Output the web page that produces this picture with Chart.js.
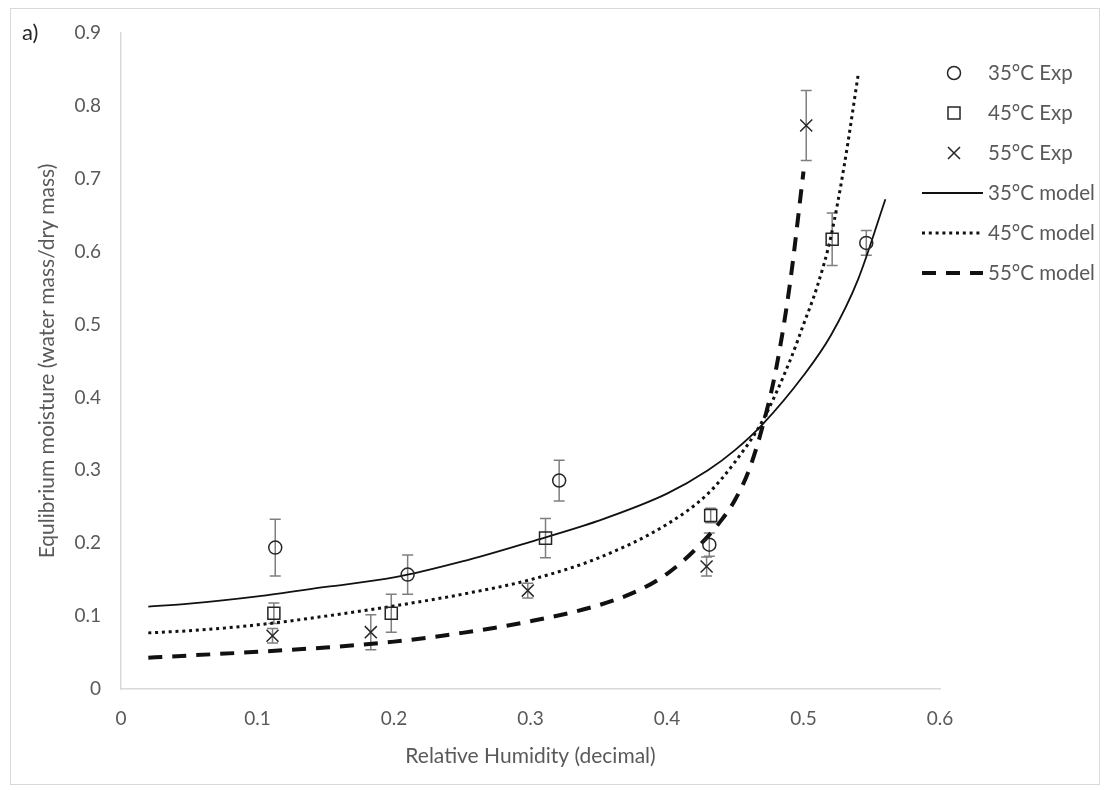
<!DOCTYPE html>
<html><head><meta charset="utf-8">
<script src="https://cdn.jsdelivr.net/npm/chart.js@4.4.1/dist/chart.umd.min.js"></script>
<style>
html,body{margin:0;padding:0;background:#fff;}
#wrap{position:relative;width:1110px;height:790px;overflow:hidden;}
#frame{position:absolute;left:10px;top:8px;width:1090px;height:777px;border:1px solid #d9d9d9;box-sizing:border-box;}
#tag{position:absolute;left:22px;top:19px;font:22px Lato,sans-serif;color:#262626;line-height:26px;}
canvas{position:absolute;left:0;top:0;}
</style></head>
<body>
<div id="wrap"><div id="frame"></div><canvas id="c" width="1110" height="790"></canvas><div id="tag">a)</div></div>
<script>
// ---- data ----
const xTickLabels = ['0','0.1','0.2','0.3','0.4','0.5','0.6'];
const yTickLabels = ['0','0.1','0.2','0.3','0.4','0.5','0.6','0.7','0.8','0.9'];
const xTitle = 'Relative Humidity (decimal)';
const yTitle = 'Equlibrium moisture (water mass/dry mass)';
const seriesLabels = ['35°C Exp','45°C Exp','55°C Exp','35°C model','45°C model','55°C model'];

const rh35 = [0.113, 0.210, 0.321, 0.431, 0.546];
const emc35 = [0.194, 0.157, 0.286, 0.198, 0.612];
const err35 = [0.039, 0.027, 0.028, 0.016, 0.017];

const rh45 = [0.112, 0.198, 0.311, 0.432, 0.521];
const emc45 = [0.104, 0.104, 0.207, 0.238, 0.617];
const err45 = [0.014, 0.026, 0.027, 0.010, 0.036];

const rh55 = [0.111, 0.183, 0.298, 0.429, 0.502];
const emc55 = [0.073, 0.078, 0.135, 0.168, 0.773];
const err55 = [0.010, 0.024, 0.010, 0.013, 0.048];

const model35X = [0.02, 0.05, 0.10, 0.15, 0.20, 0.25, 0.30, 0.35, 0.40, 0.43, 0.45, 0.47, 0.50, 0.52, 0.54, 0.56];
const model35Y = [0.113, 0.117, 0.127, 0.140, 0.153, 0.175, 0.202, 0.231, 0.268, 0.300, 0.328, 0.363, 0.430, 0.485, 0.562, 0.672];

const model45X = [0.02, 0.05, 0.10, 0.15, 0.20, 0.25, 0.30, 0.35, 0.40, 0.43, 0.45, 0.47, 0.49, 0.50, 0.51, 0.52, 0.53, 0.54];
const model45Y = [0.077, 0.080, 0.088, 0.100, 0.114, 0.130, 0.150, 0.180, 0.226, 0.268, 0.312, 0.368, 0.450, 0.500, 0.552, 0.620, 0.720, 0.842];

const model55X = [0.02, 0.05, 0.10, 0.15, 0.20, 0.25, 0.30, 0.35, 0.38, 0.40, 0.42, 0.44, 0.45, 0.46, 0.47, 0.48, 0.49, 0.50];
const model55Y = [0.043, 0.046, 0.051, 0.057, 0.065, 0.077, 0.093, 0.115, 0.136, 0.158, 0.190, 0.232, 0.260, 0.300, 0.360, 0.440, 0.555, 0.710];

// ---- helpers ----
const pts = (xs, ys) => xs.map((x, i) => ({x: x, y: ys[i]}));
const FONT = 'Lato';
const TEXT = '#595959';
const INK = '#262626';

const errorBarPlugin = {
  id: 'errorBars',
  beforeDatasetsDraw(chart) {
    const {ctx, scales: {x, y}} = chart;
    chart.data.datasets.forEach(ds => {
      if (!ds.errors) return;
      ctx.save();
      ctx.strokeStyle = '#7f7f7f';
      ctx.lineWidth = 1.5;
      ds.data.forEach((p, i) => {
        const e = ds.errors[i];
        const px = x.getPixelForValue(p.x);
        const pt = y.getPixelForValue(p.y + e);
        const pb = y.getPixelForValue(p.y - e);
        ctx.beginPath();
        ctx.moveTo(px, pt); ctx.lineTo(px, pb);
        ctx.moveTo(px - 5.5, pt); ctx.lineTo(px + 5.5, pt);
        ctx.moveTo(px - 5.5, pb); ctx.lineTo(px + 5.5, pb);
        ctx.stroke();
      });
      ctx.restore();
    });
  }
};

const legendPlugin = {
  id: 'manualLegend',
  afterDraw(chart) {
    const o = chart.options.plugins.manualLegend;
    const ctx = chart.ctx;
    chart.data.datasets.forEach((ds, i) => {
      const yy = o.top + i * o.rowGap;
      ctx.save();
      ctx.strokeStyle = ds.borderColor;
      ctx.fillStyle = 'rgba(0,0,0,0)';
      if (ds.showLine) {
        ctx.lineWidth = ds.borderWidth;
        ctx.setLineDash(ds.borderDash || []);
        ctx.beginPath();
        ctx.moveTo(o.lineX0, yy); ctx.lineTo(o.lineX1, yy);
        ctx.stroke();
        ctx.setLineDash([]);
      } else {
        ctx.lineWidth = ds.pointBorderWidth;
        Chart.helpers.drawPoint(ctx, {pointStyle: ds.pointStyle, radius: ds.pointRadius, borderWidth: ds.pointBorderWidth, rotation: 0}, o.markerX, yy);
      }
      ctx.fillStyle = TEXT;
      ctx.font = o.fontSize + 'px ' + FONT;
      ctx.textBaseline = 'middle';
      ctx.textAlign = 'left';
      ctx.fillText(ds.label, o.textX, yy);
      ctx.restore();
    });
  }
};

const expStyle = (style, r) => ({
  showLine: false, pointStyle: style, pointRadius: r, pointHoverRadius: r,
  pointBorderWidth: 1.5, borderColor: INK, backgroundColor: 'rgba(0,0,0,0)', pointBackgroundColor: 'rgba(0,0,0,0)'
});
const modelStyle = (w, dash) => ({
  showLine: true, pointRadius: 0, borderColor: '#111', borderWidth: w, borderDash: dash,
  cubicInterpolationMode: 'monotone', fill: false, borderCapStyle: 'butt'
});

new Chart(document.getElementById('c'), {
  type: 'scatter',
  data: {
    datasets: [
      Object.assign({label: seriesLabels[0], data: pts(rh35, emc35), errors: err35}, expStyle('circle', 6.5)),
      Object.assign({label: seriesLabels[1], data: pts(rh45, emc45), errors: err45}, expStyle('rect', 8.5)),
      Object.assign({label: seriesLabels[2], data: pts(rh55, emc55), errors: err55}, expStyle('crossRot', 8.5)),
      Object.assign({label: seriesLabels[3], data: pts(model35X, model35Y)}, modelStyle(1.8, [])),
      Object.assign({label: seriesLabels[4], data: pts(model45X, model45Y)}, modelStyle(3, [3, 3.8])),
      Object.assign({label: seriesLabels[5], data: pts(model55X, model55Y)}, modelStyle(4, [14, 10]))
    ]
  },
  options: {
    responsive: false,
    animation: false,
    events: [],
    layout: {padding: {left: 0, right: 170, top: 33, bottom: 0}},
    plugins: {
      legend: {display: false},
      tooltip: {enabled: false},
      manualLegend: {top: 73, rowGap: 40, markerX: 954, lineX0: 922, lineX1: 983, textX: 988, fontSize: 20.5}
    },
    scales: {
      x: {
        type: 'linear', min: 0, max: 0.6,
        afterFit(s) { s.height = 101; },
        grid: {display: false, drawTicks: false},
        border: {display: true, color: '#d9d9d9', width: 1.5},
        ticks: {stepSize: 0.1, padding: 18, color: TEXT, font: {family: FONT, size: 19}, maxRotation: 0,
          callback: (v, i) => xTickLabels[i]},
        title: {display: true, text: xTitle, color: TEXT, font: {family: FONT, size: 21}, padding: {top: 0, bottom: 21}}
      },
      y: {
        type: 'linear', min: 0, max: 0.9,
        afterFit(s) { s.width = 121; },
        grid: {display: false, drawTicks: false},
        border: {display: true, color: '#d9d9d9', width: 1.5},
        ticks: {stepSize: 0.1, padding: 20, color: TEXT, font: {family: FONT, size: 19},
          callback: (v, i) => yTickLabels[i]},
        title: {display: true, text: yTitle, color: TEXT, font: {family: FONT, size: 21}, padding: {top: 35, bottom: 0}}
      }
    }
  },
  plugins: [errorBarPlugin, legendPlugin]
});
</script>
</body></html>
